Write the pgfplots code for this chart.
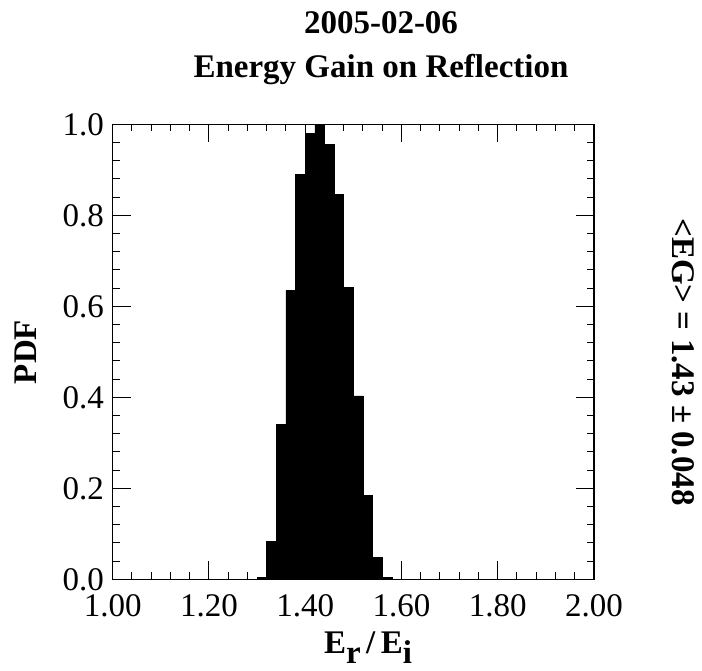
\documentclass[border=0pt]{standalone}
\usepackage{fontspec}
\setmainfont{Liberation Serif}
\usepackage{pgfplots}
\pgfplotsset{compat=1.18}
\newcommand{\bigf}{\fontsize{33}{38}\selectfont}
\begin{document}
\begin{tikzpicture}[x=1pt,y=1pt]
\useasboundingbox (0,0) rectangle (702,671);
\begin{axis}[
  at={(112.7pt,91.7pt)}, anchor=south west,
  scale only axis, width=481.3pt, height=455pt,
  xmin=1, xmax=2, ymin=0, ymax=1,
  xtick={1,1.2,1.4,1.6,1.8,2},
  xticklabels={1.00,1.20,1.40,1.60,1.80,2.00},
  minor x tick num=4,
  ytick={0,0.2,0.4,0.6,0.8,1},
  yticklabels={0.0,0.2,0.4,0.6,0.8,1.0},
  minor y tick num=4,
  tick align=inside,
  major tick length=18pt, minor tick length=7pt,
  axis line style={line width=1.3pt},
  every tick/.style={black, line width=1pt},
  ticklabel style={font=\bigf},
  xticklabel style={anchor=base, yshift=-37pt, inner sep=0pt},
  yticklabel style={anchor=east, inner sep=0pt, xshift=-8.5pt},
  axis on top,
]
\addplot[const plot mark left, fill=black, draw=black, line width=0.6pt, mark=none] coordinates {
(1.30,0) (1.30,0.004) (1.32,0.084) (1.34,0.341) (1.36,0.635) (1.38,0.890)
(1.40,0.980) (1.42,1.000) (1.44,0.956) (1.46,0.846) (1.48,0.642)
(1.50,0.403) (1.52,0.184) (1.54,0.048) (1.56,0.004) (1.58,0.004) (1.58,0)
} \closedcycle;
\end{axis}
\node[anchor=base, font=\bigf\bfseries] at (381, 637.7) {2005-02-06};
\node[anchor=base, font=\bigf\bfseries] at (381, 593.3) {Energy Gain on Reflection};
\node[anchor=base, rotate=90, font=\bigf\bfseries] at (36.7, 319) {PDF};
\node[anchor=base, rotate=-90, font=\bigf\bfseries] at (672, 309) {<EG> = 1.43 ± 0.048};
\node[anchor=base, font=\bigf\bfseries] at (368, 17) {E\raisebox{-9.5pt}{r}\,/\,E\raisebox{-9.5pt}{i}};
\end{tikzpicture}
\end{document}
